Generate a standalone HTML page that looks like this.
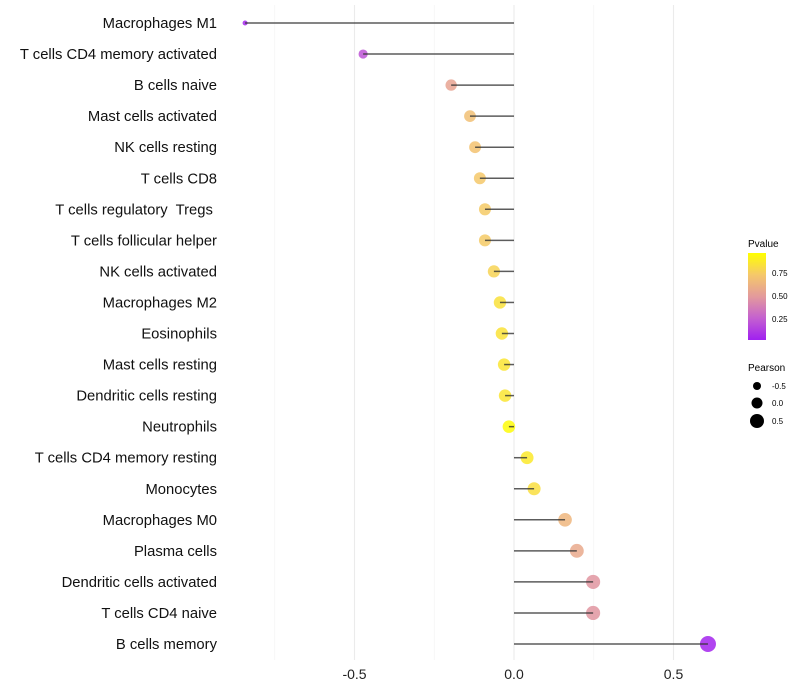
<!DOCTYPE html>
<html><head><meta charset="utf-8"><style>
html,body{margin:0;padding:0;background:#fff;}
svg{display:block;font-family:"Liberation Sans",sans-serif;}
#ylabels text{white-space:pre;}
</style></head><body>
<svg id="chart" width="800" height="700">
<defs>
<linearGradient id="pgrad" x1="0" y1="1" x2="0" y2="0">
<stop offset="0" stop-color="#a020f0"/><stop offset="0.25" stop-color="#c460d0"/>
<stop offset="0.5" stop-color="#e39a9c"/><stop offset="0.75" stop-color="#f5c86a"/>
<stop offset="1" stop-color="#ffff00"/></linearGradient>
</defs>
<g id="grid"></g>
<g id="marks"></g>
<g id="ylabels"></g>
<g id="xlabels"></g>
<g>
<text x="748" y="247" font-size="10">Pvalue</text>
<rect x="748" y="253" width="18" height="87" fill="url(#pgrad)"/>
<text x="772" y="276" font-size="8">0.75</text>
<text x="772" y="299" font-size="8">0.50</text>
<text x="772" y="322" font-size="8">0.25</text>
</g>
<g>
<text x="748" y="371" font-size="10">Pearson</text>
<circle cx="757" cy="386" r="4" fill="#000"/>
<circle cx="757" cy="403" r="5.5" fill="#000"/>
<circle cx="757" cy="421" r="7" fill="#000"/>
<text x="772" y="389" font-size="8">-0.5</text>
<text x="772" y="406" font-size="8">0.0</text>
<text x="772" y="424" font-size="8">0.5</text>
</g>
</svg>
<script>
const categories=["Macrophages M1","T cells CD4 memory activated","B cells naive","Mast cells activated","NK cells resting","T cells CD8","T cells regulatory  Tregs ","T cells follicular helper","NK cells activated","Macrophages M2","Eosinophils","Mast cells resting","Dendritic cells resting","Neutrophils","T cells CD4 memory resting","Monocytes","Macrophages M0","Plasma cells","Dendritic cells activated","T cells CD4 naive","B cells memory"];
const pearson=[-0.843,-0.473,-0.197,-0.138,-0.122,-0.107,-0.091,-0.091,-0.063,-0.044,-0.038,-0.031,-0.028,-0.016,0.041,0.063,0.160,0.197,0.248,0.248,0.608];
const pvalues=[0.03,0.2,0.55,0.7,0.72,0.75,0.76,0.76,0.8,0.86,0.87,0.88,0.88,0.98,0.9,0.85,0.65,0.58,0.48,0.48,0.02];
const xTicks=[-0.5,0,0.5];
const xTickLabels=["-0.5","0.0","0.5"];
const NS="http://www.w3.org/2000/svg";
const x=v=>514+v*319;
const y=i=>23+i*31.05;
const rad=v=>Math.sqrt(Math.max(4,40+40*v));
const stops=[[0,[160,32,240]],[0.25,[196,96,208]],[0.5,[227,154,156]],[0.75,[245,200,106]],[1,[255,255,0]]];
function col(p){for(let i=1;i<stops.length;i++){if(p<=stops[i][0]){const a=stops[i-1],b=stops[i],t=(p-a[0])/(b[0]-a[0]);return "rgb("+a[1].map((c,k)=>Math.round(c+(b[1][k]-c)*t)).join(",")+")";}}return "rgb(255,255,0)";}
function mk(t,at,parent){const e=document.createElementNS(NS,t);for(const k in at)e.setAttribute(k,at[k]);document.getElementById(parent).appendChild(e);return e;}
[-0.75,-0.25,0.25].forEach(v=>{const l=mk("line",{x1:x(v),x2:x(v),y1:5,y2:660,stroke:"#f3f3f3","stroke-width":0.6},"grid");

});
xTicks.forEach((v,i)=>{const l=mk("line",{x1:x(v),x2:x(v),y1:5,y2:660,stroke:"#ebebeb","stroke-width":1.1},"grid");


const t=mk("text",{x:x(v),y:679,"font-size":14,"text-anchor":"middle",fill:"#222"},"xlabels");t.textContent=xTickLabels[i];

});
categories.forEach((c,i)=>{
const t=mk("text",{x:217,y:y(i)+5,"font-size":14.8,"text-anchor":"end",fill:"#111"},"ylabels");t.textContent=c;


const p=mk("circle",{cx:x(pearson[i]),cy:y(i),r:rad(pearson[i]),fill:col(pvalues[i]),"fill-opacity":0.85},"marks");


const l=mk("line",{x1:x(0),x2:x(pearson[i]),y1:y(i),y2:y(i),stroke:"#333","stroke-opacity":0.8,"stroke-width":1.5},"marks");


});
</script>
</body></html>
